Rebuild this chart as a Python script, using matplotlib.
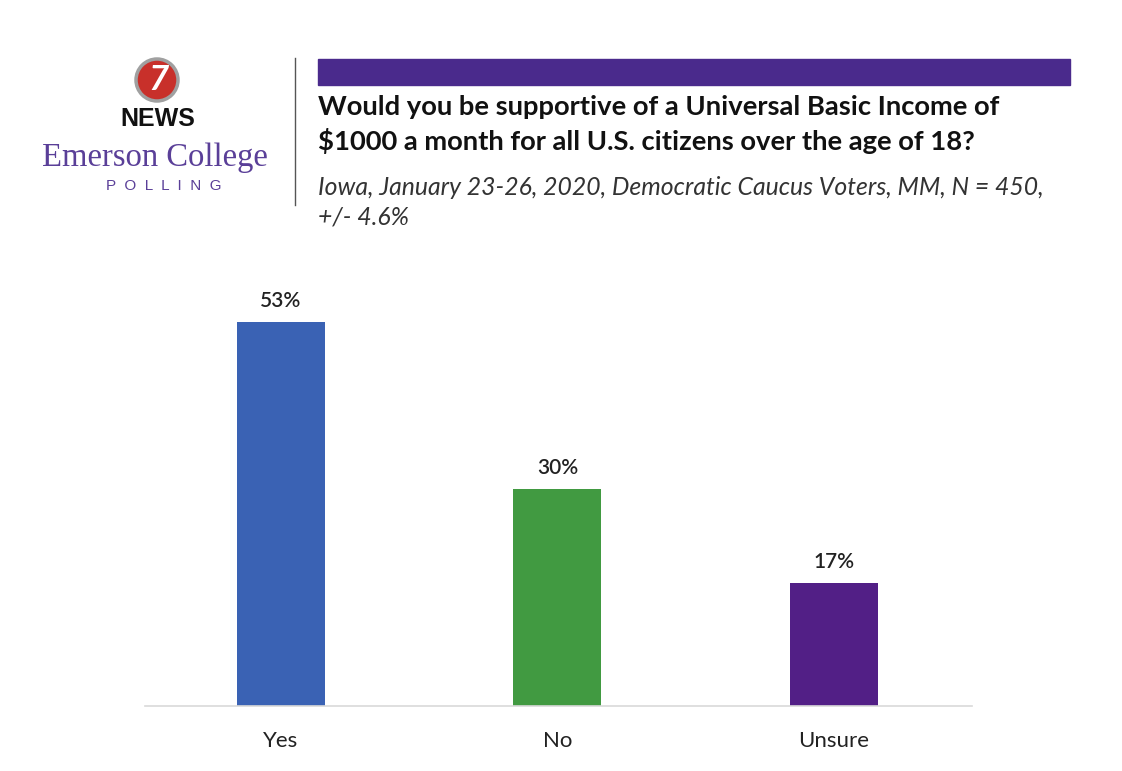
import matplotlib
matplotlib.use("Agg")
import matplotlib.pyplot as plt
from matplotlib.patches import Ellipse, Rectangle

# poll data
answers = ["Yes", "No", "Unsure"]
shares = [53, 30, 17]
bar_colors = ["#3a62b4", "#419a41", "#521f86"]

title = ("Would you be supportive of a Universal Basic Income of\n"
         "$1000 a month for all U.S. citizens over the age of 18?")
subtitle = ("Iowa, January 23-26, 2020, Democratic Caucus Voters, MM, N = 450,\n"
            "+/- 4.6%")

plt.rcParams['font.family'] = ['Lato', 'DejaVu Sans']

W, H = 1122, 771
fig = plt.figure(figsize=(W/100, H/100), dpi=100)

# header: purple band + separator line
fig.patches.append(Rectangle((318/W, 1-85/H), 752/W, 26/H,
                             transform=fig.transFigure, color="#4a2a8c"))
fig.add_artist(plt.Line2D([295/W, 295/W], [1-58/H, 1-205/H],
                          transform=fig.transFigure, color="#555555", lw=1))

fig.text(318/W, 1-95/H, title, ha="left", va="top", fontsize=19.7,
         fontweight="bold", color="#111111", linespacing=1.42)
fig.text(318/W, 1-176/H, subtitle, ha="left", va="top", fontsize=17.8,
         style="italic", color="#333333", linespacing=1.36)

# logo
fig.patches.append(Ellipse((157/W, 1-80/H), 42/W, 42/H, transform=fig.transFigure,
                           facecolor="#c8302a", edgecolor="#a0a0a0", lw=2.5))
fig.text(158/W, 1-80/H, "7", ha="center", va="center", fontsize=25,
         fontweight="bold", color="white", style="italic")
fig.text(158/W, 1-119/H, "NEWS", ha="center", va="center", fontsize=18,
         fontweight="heavy", color="#111111", family=["Liberation Sans"])
fig.text(155/W, 1-158/H, "Emerson College", ha="center", va="center",
         fontsize=23.5, color="#5a3f98", family=["Liberation Serif"])
fig.text(164/W, 1-186/H, "P  O  L  L  I  N  G", ha="center", va="center",
         fontsize=11, color="#5a3f98", family=["Liberation Sans"])

# bars
ax = fig.add_axes([145/W, 65/H, 827/W, 435/H])
x = range(len(answers))
bars = ax.bar(x, shares, width=0.318, color=bar_colors)
for b, v in zip(bars, shares):
    ax.text(b.get_x() + b.get_width()/2, v + 1.5, f"{v}%", ha="center",
            va="bottom", fontsize=15, color="#222222", fontweight="semibold")

ax.set_xlim(-0.492, 2.5)
ax.set_ylim(0, 60)
ax.set_xticks(list(x))
ax.set_xticklabels(answers, fontsize=16, color="#222222")
ax.tick_params(axis="x", length=0, pad=18)
ax.set_yticks([])
for s in ["top", "right", "left"]:
    ax.spines[s].set_visible(False)
ax.spines["bottom"].set_color("#d9d9d9")
ax.spines["bottom"].set_linewidth(1.2)

fig.savefig("out.png", dpi=100)
